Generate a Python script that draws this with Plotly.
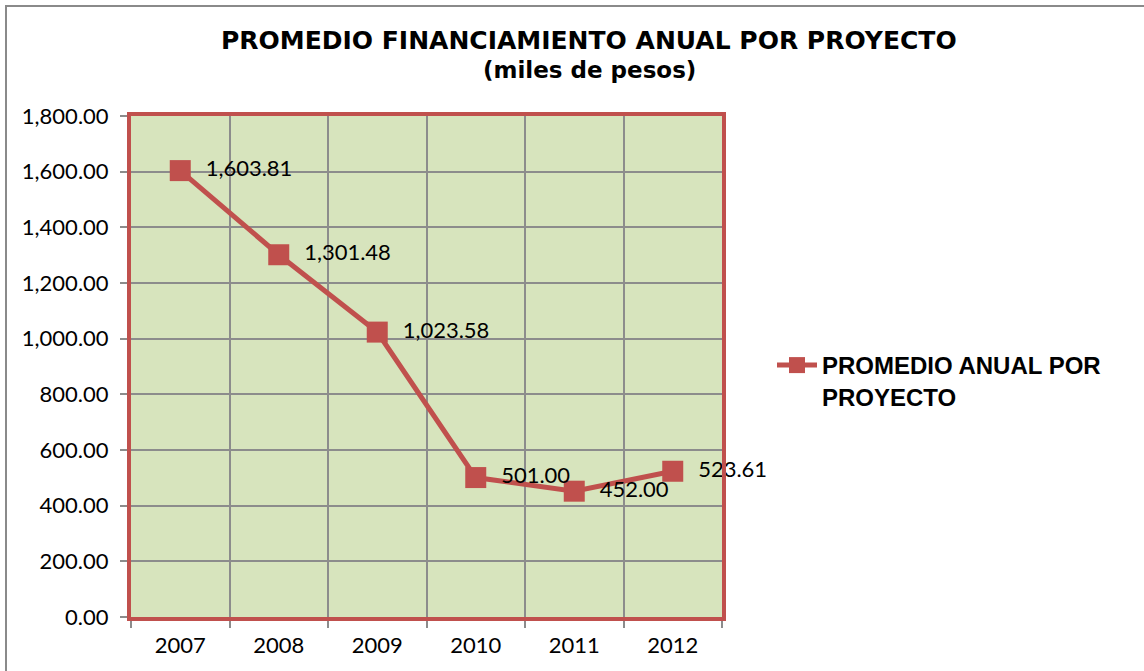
import plotly.graph_objects as go

years = ["2007", "2008", "2009", "2010", "2011", "2012"]
promedio = [1603.81, 1301.48, 1023.58, 501.00, 452.00, 523.61]
series_name = "PROMEDIO ANUAL POR<br>PROYECTO"
title_main = "PROMEDIO FINANCIAMIENTO ANUAL POR PROYECTO"
title_sub = "(miles de pesos)"

W, H = 1144, 671
L, R, T, B = 131, 422, 116, 54
pw, ph = W - L - R, H - T - B

def px(x):
    return (x - L) / pw

def py(y):
    return (H - B - y) / ph

red = "#C0504D"
grid = "#8C8C8C"
nb = "\u00a0"

fig = go.Figure()
fig.add_trace(go.Scatter(
    x=years, y=promedio, name=series_name,
    mode="lines+markers+text",
    line=dict(color=red, width=5),
    marker=dict(symbol="square", size=21, color=red),
    texttemplate=nb * 2 + "%{y:,.2f}", textposition="middle right",
    textfont=dict(family="Lato, Carlito, sans-serif", size=22, color="#000000"),
    cliponaxis=False,
))

fig.update_layout(
    width=W, height=H,
    margin=dict(l=L, r=R, t=T, b=B),
    paper_bgcolor="white", plot_bgcolor="#D7E4BD",
    font=dict(family="Lato, Carlito, sans-serif", size=22, color="#000000"),
    showlegend=True,
    legend=dict(x=px(772), y=py(343), xanchor="left", yanchor="top", valign="top",
                font=dict(family="Liberation Sans, Arial, sans-serif", size=24, color="#000000", weight="bold"),
                bgcolor="rgba(0,0,0,0)", itemwidth=40),
    xaxis=dict(type="category", tickson="boundaries", showgrid=True, gridcolor=grid, gridwidth=2,
               ticks="outside", ticklen=7, tickcolor=grid, tickwidth=2,
               showline=True, linecolor=red, linewidth=4, mirror=True,
               tickfont=dict(size=22), range=[-0.5, 5.5], ticklabelstandoff=6),
    yaxis=dict(range=[0, 1800], dtick=200, tickformat=",.2f", showgrid=True, gridcolor=grid, gridwidth=2,
               ticks="outside", ticklen=7, tickcolor=grid, tickwidth=2,
               showline=True, linecolor=red, linewidth=4, mirror=True, zeroline=False,
               tickfont=dict(size=22), ticklabelstandoff=7),
    annotations=[
        dict(text=title_main, x=px(589), y=py(40), xref="paper", yref="paper", showarrow=False,
             xanchor="center", yanchor="middle",
             font=dict(family="DejaVu Sans, sans-serif", size=25, weight="bold", color="#000000")),
        dict(text=title_sub, x=px(589), y=py(70), xref="paper", yref="paper", showarrow=False,
             xanchor="center", yanchor="middle",
             font=dict(family="DejaVu Sans, sans-serif", size=23, weight="bold", color="#000000")),
    ],
    shapes=[
        dict(type="line", xref="paper", yref="paper", x0=px(5), x1=px(1150), y0=py(6), y1=py(6),
             line=dict(color="#8A8A8A", width=2)),
        dict(type="line", xref="paper", yref="paper", x0=px(6), x1=px(6), y0=py(6), y1=py(680),
             line=dict(color="#8A8A8A", width=2)),
    ],
)

fig.write_html("out.html", config={"displayModeBar": False},
               post_script="document.body.style.margin='0';document.body.style.overflow='hidden';")
